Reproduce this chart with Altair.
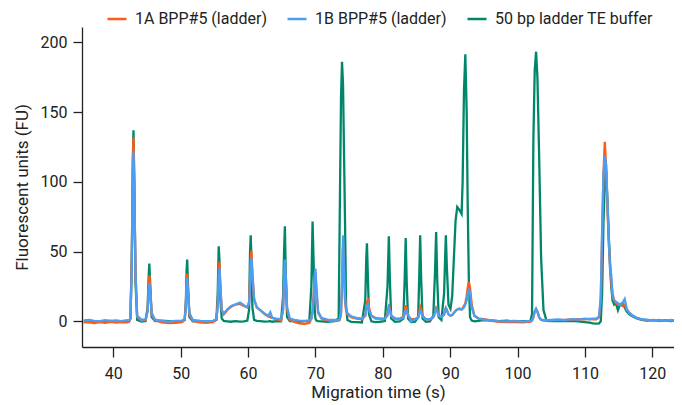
import altair as alt
import pandas as pd

SERIES = ["1A BPP#5 (ladder)", "1B BPP#5 (ladder)", "50 bp ladder TE buffer"]
COLORS = ["#ff5b14", "#4a9ff5", "#00876a"]
X_TICKS = [40, 50, 60, 70, 80, 90, 100, 110, 120]
Y_TICKS = [0, 50, 100, 150, 200]
FONT = "Roboto"
INK = "#222222"

# migration time (s), one line per stretch of the trace
time_s = [
    35.6, 36.4, 37.2, 38.0, 38.8, 39.6, 40.4, 41.2, 42.0, 42.35,
    42.55, 42.75, 42.9, 43.0, 43.12, 43.3, 43.55, 44.2, 44.8,
    45.1, 45.25, 45.35, 45.5, 45.7, 46.2, 47.2, 48.2, 49.2, 50.2, 50.6,
    50.78, 50.88, 50.97, 51.1, 51.3, 51.8, 52.8, 53.8, 54.8, 55.3,
    55.5, 55.65, 55.75, 55.9, 56.1, 56.4, 56.9, 57.5, 58.1, 58.8, 59.4, 59.9, 60.15,
    60.3, 60.4, 60.5, 60.65, 60.9, 61.3, 61.8, 62.5, 63.0, 63.3, 63.6, 64.2, 64.9,
    65.2, 65.35, 65.47, 65.6, 65.8, 66.2, 66.9, 67.6, 68.4, 69.1,
    69.4, 69.58, 69.75, 69.9, 70.0, 70.15, 70.4, 70.9, 71.8, 72.8,
    73.45, 73.6, 73.8, 73.95, 74.1, 74.25, 74.4, 74.55, 74.75, 75.3, 76.1, 76.9,
    77.4, 77.55, 77.65, 77.8, 77.95, 78.3, 78.9, 79.6, 80.3,
    80.7, 80.9, 81.05, 81.25, 81.8, 82.5, 83.05,
    83.25, 83.4, 83.55, 83.75, 84.2, 84.8, 85.25,
    85.4, 85.55, 85.7, 85.9, 86.4, 87.0, 87.5,
    87.75, 87.92, 88.08, 88.3, 88.7, 89.1,
    89.25, 89.36, 89.5, 89.75, 90.05, 90.3, 90.55, 90.8, 91.05, 91.35, 91.7,
    91.85, 92.05, 92.25, 92.45, 92.6, 92.77, 92.95, 93.2, 93.6, 94.2, 95.0,
    96.0, 97.2, 98.4, 99.6, 100.8, 101.9,
    102.15, 102.35, 102.55, 102.75, 102.95, 103.2, 103.5, 103.85, 104.3,
    105.0, 106.0, 107.0, 108.0, 109.0, 110.0, 110.7, 111.2, 111.7, 112.1,
    112.35, 112.55, 112.75, 112.95, 113.15, 113.35, 113.55, 113.75, 113.9, 114.1, 114.35,
    114.6, 114.9, 115.2, 115.55, 115.9, 116.2, 116.6, 117.1, 117.7, 118.4,
    119.2, 120.1, 121.0, 121.9, 122.8, 123.6, 124.3,
]

fu_1a = [
    -0.8, -0.5, -1.2, -0.6, -1.0, -0.4, -0.9, -0.5, -0.7, -0.3,
    2, 45, 110, 132, 100, 35, 3, 0.5, 1.0,
    8, 25, 33, 22, 5, 0.5, -0.8, -1.2, -1.0, -0.6, 1,
    12, 28, 34.2, 22, 5, 0.3, -0.8, -1.0, -0.5, 1,
    12, 33, 42.6, 25, 8, 5, 8, 10.5, 12, 12.5, 11, 10, 14,
    30, 44, 50.5, 35, 16, 10, 8, 5, 3.5, 3, 2.5, 1.5, 0.5,
    8, 28, 41, 30, 8, 1.0, -0.5, -1.5, -1.8, -1.2,
    2, 8, 20, 33, 35, 22, 6, 2, 0.5, 0.2,
    0.5, 1, 5, 25, 54, 35, 15, 8, 5, 3, 2, 1.5,
    4, 10, 14, 15, 10, 4, 2.5, 2, 2,
    5, 12, 9, 4, 2, 2, 3,
    7, 11.5, 9, 4, 1.5, 1.5, 3,
    6, 10.8, 9, 4, 1.5, 1.5, 3,
    6, 9.5, 8, 4, 3, 5,
    8, 9.7, 8.5, 5, 4, 4.5, 6, 7.5, 8.5, 9, 8.5,
    9.5, 11, 13, 18, 24, 28, 24, 12, 4, 2, 1.5,
    0.5, -0.3, -0.6, -0.5, -0.8, -0.3,
    0.5, 3, 7, 9, 7, 3, 1, 0.5, 0.5,
    0.5, 0.8, 1.0, 1.2, 1.5, 1.4, 1.8, 1.5, 1.5, 3,
    15, 60, 105, 128.7, 110, 80, 55, 38, 28, 20, 15,
    13, 12, 12, 11, 12, 8, 6, 4, 2.5, 1.5,
    0.5, 1.0, 0.2, 0.8, 0.3, 0.9, 0.5,
]

fu_1b = [
    0.6, 1.0, 0.4, 0.2, 0.8, 0.3, 0.6, 0.2, 0.9, 0.5,
    2, 40, 100, 122, 95, 35, 4, 1.0, 1.5,
    7, 21, 27.5, 20, 6, 1.2, 0.4, -0.2, 0.3, 0.5, 1.5,
    11, 26, 31.4, 21, 6, 1.0, 0.3, 0.0, 0.4, 1.5,
    10, 30, 38.5, 24, 8, 5.5, 8.5, 11, 12, 13.5, 11.5, 10, 13,
    25, 40, 46, 33, 16, 10, 8, 5.5, 4, 6.5, 2.5, 2, 1.5,
    8, 30, 44.3, 33, 10, 2.0, 1.0, 0.5, 0.3, 0.6,
    2, 6, 17, 33, 37.8, 24, 7, 2.5, 1.2, 1.0,
    1, 1.5, 6, 30, 61.7, 38, 16, 9, 6, 3.5, 2.5, 2,
    4, 8, 11, 12, 8, 4, 2, 1.8, 2,
    4, 10, 8, 4, 2, 1.5, 2.5,
    5, 8, 7, 5, 0, 1.5, 2.5,
    5, 8, 7, 3.5, 1.5, 1.5, 3,
    6, 9, 7.5, 4, 3, 5,
    7.5, 9.5, 8, 5, 4, 4.5, 6, 7.5, 8.5, 9, 8.5,
    9, 10, 12, 15, 20, 23.5, 20, 10, 4, 2, 1.2,
    0.8, 0.2, 0.0, 0.3, -0.2, 0.3,
    0.8, 3, 7, 9, 7, 3, 1.2, 0.8, 0.8,
    1.0, 1.3, 0.8, 1.6, 1.2, 2.0, 1.5, 2, 2, 3.5,
    18, 65, 105, 118.5, 112, 85, 58, 35, 34, 18, 15,
    14, 13, 12, 13, 16, 9, 6, 4, 2.5, 1.5,
    1.2, 0.5, 1.0, 0.3, 1.0, 0.5, 0.8,
]

fu_ladder = [
    -0.3, 0.2, -0.4, 0.1, -0.2, 0.3, -0.3, 0.1, 0.2, 0.0,
    2, 45, 115, 137, 100, 28, 1, -0.2, 0.3,
    10, 32, 41.4, 25, 3, 0.2, 0.5, 0.2, -0.3, 0.1, 1,
    15, 36, 44.3, 25, 3, 0, 0.3, -0.2, 0.2, 1,
    20, 53.8, 45, 15, 2, 0.3, 0, -0.3, 0.2, -0.2, 0, 0.5, 8,
    50, 61.7, 45, 10, 1.0, 0.3, 0.2, -0.2, 0, 0.2, -0.3, 0.2, 0,
    18, 50, 68.2, 35, 3, 0.2, 0.1, -0.3, 0.2, 0.3,
    25, 71.5, 40, 8, 2, 0.5, 0.2, 0, -0.3, 0.2,
    2, 70, 160, 186, 170, 120, 70, 12, 1, -0.4, -0.5, -0.8,
    15, 45, 56, 30, 5, 0, -0.5, -0.3, 0.2,
    25, 61, 30, 2, -0.3, 0, 2,
    30, 59.8, 28, 2, -0.5, -0.3, 3,
    30, 61.7, 30, 2, -0.3, 0, 4,
    35, 64, 30, 3, 1, 20,
    45, 61.7, 40, 12, 9, 18, 45, 72, 82, 80, 77,
    100, 165, 191.4, 150, 85, 30, 3, 0.5, 0, 0.3, 0.8,
    0.6, 0.2, 0.5, -0.2, 0.1, 0.2,
    5, 130, 180, 193.3, 175, 120, 45, 8, 0.3,
    0.2, 0.3, 0.1, 0.3, 0.0, -0.5, -1.0, -1.5, -1.7, -1.5,
    0, 20, 70, 100, 108, 85, 60, 40, 25, 15, 12,
    13, 8, 12, 13, 10, 7, 5, 3.5, 2, 1,
    0.5, 0.8, 0.3, 0.6, 0.2, 0.7, 0.4,
]

assert len(time_s) == len(fu_1a) == len(fu_1b) == len(fu_ladder)

frames = []
for name, values in zip(SERIES, [fu_1a, fu_1b, fu_ladder]):
    frames.append(pd.DataFrame({"time": time_s, "fu": values, "sample": name}))
df = pd.concat(frames, ignore_index=True)

x_enc = alt.X(
    "time:Q",
    scale=alt.Scale(domain=[35.36, 123.22], nice=False, zero=False),
    axis=alt.Axis(
        title="Migration time (s)",
        values=X_TICKS,
        grid=False,
        tickSize=10,
        tickWidth=1.3,
        tickColor=INK,
        domainColor=INK,
        domainWidth=1.3,
        labelFont=FONT,
        labelFontSize=16,
        labelColor=INK,
        labelPadding=8,
        titleFont=FONT,
        titleFontSize=17,
        titleFontWeight="normal",
        titleColor=INK,
        titleY=50,
        titleBaseline="alphabetic",
    ),
)

y_enc = alt.Y(
    "fu:Q",
    scale=alt.Scale(domain=[-18.4, 211], nice=False, zero=False),
    axis=alt.Axis(
        title="Fluorescent units (FU)",
        values=Y_TICKS,
        grid=False,
        tickSize=9,
        tickWidth=1.3,
        tickColor=INK,
        domainColor=INK,
        domainWidth=1.3,
        labelFont=FONT,
        labelFontSize=16,
        labelColor=INK,
        labelPadding=6,
        titleFont=FONT,
        titleFontSize=17,
        titleFontWeight="normal",
        titleColor=INK,
        titleX=-55,
        titleBaseline="alphabetic",
    ),
)

color_enc = alt.Color(
    "sample:N",
    scale=alt.Scale(domain=SERIES, range=COLORS),
    legend=alt.Legend(
        title=None,
        orient="none",
        direction="horizontal",
        legendX=24,
        legendY=-19,
        symbolType="stroke",
        symbolSize=361,
        symbolStrokeWidth=2.5,
        labelFont=FONT,
        labelFontSize=16,
        labelColor=INK,
        labelOffset=7,
        columnPadding=15,
        padding=0,
    ),
)


def trace(name):
    return alt.Chart(df).transform_filter(
        alt.datum.sample == name
    ).mark_line(strokeWidth=2.3, clip=True).encode(
        x=x_enc,
        y=y_enc,
        color=color_enc,
    )


chart = alt.layer(
    trace(SERIES[2]),
    trace(SERIES[0]),
    trace(SERIES[1]),
).properties(
    width=592,
    height=320,
    autosize=alt.AutoSizeParams(type="none"),
    padding={"left": 74, "top": 19, "right": 0, "bottom": 58},
).configure_view(
    strokeWidth=0
)

chart.save("out.html", embed_options={"renderer": "svg", "actions": False})
